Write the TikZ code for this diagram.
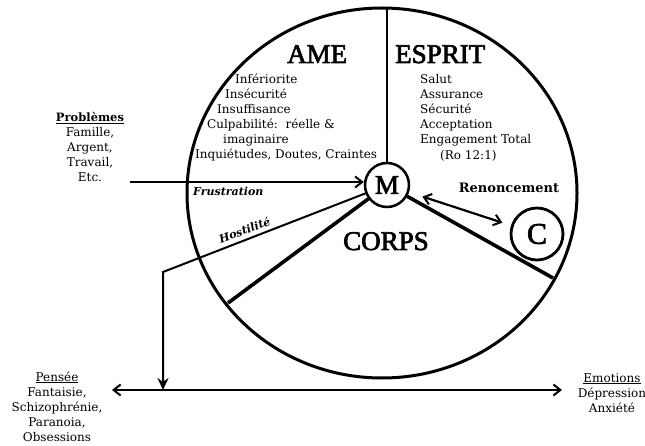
\documentclass[tikz,border=0pt]{standalone}
\usepackage{fontspec}
\setmainfont{DejaVu Serif}
\newfontfamily\titlefont{Liberation Serif}[FakeBold=2.5]
\usetikzlibrary{arrows.meta}

\begin{document}
\begin{tikzpicture}[x=1pt,y=-1pt,
  rim/.style={line width=3pt},
  spoke/.style={line width=3.6pt},
  axis/.style={line width=2.4pt},
  thinline/.style={line width=2pt},
  arrline/.style={line width=2.2pt},
  barb/.style={-{Straight Barb[length=7pt,width=11pt,line width=2pt]}},
  bothbarb/.style={{Straight Barb[length=7pt,width=11pt,line width=2pt]}-{Straight Barb[length=7pt,width=11pt,line width=2pt]}},
  downtip/.style={-{Stealth[length=12pt,width=11pt,inset=4pt]}},
  ring/.style={circle,draw,inner sep=0pt},
  title/.style={font=\titlefont\fontsize{27}{27}\selectfont,inner sep=0pt,anchor=base west},
  small/.style={font=\fontsize{12}{15}\selectfont,inner sep=0pt,anchor=base west},
  block/.style={font=\fontsize{12}{15}\selectfont,inner sep=0pt,anchor=base,align=center},
  slanted/.style={font=\bfseries\itshape\fontsize{11}{13}\selectfont,inner sep=0pt}
]
\useasboundingbox (0,0) rectangle (645,446);

% outer ellipse
\draw[rim] (382,193) ellipse [x radius=195, y radius=185];

% centre and cross nodes
\node[ring,line width=2.5pt,minimum size=44pt] (M) at (387,185)
  {\titlefont\fontsize{27}{27}\selectfont M};
\node[ring,line width=2.8pt,minimum size=52pt] (C) at (537,234)
  {\titlefont\fontsize{30}{30}\selectfont C};

% ends of the three dividers on the rim
\coordinate (top) at (387,8);
\coordinate (rs) at (553,278);
\coordinate (ls) at (228,303);

\draw[axis] (M.north) -- (top);
\draw[spoke] (M) -- (rs);
\draw[spoke] (M) -- (ls);

% section titles
\node[title] (ame) at (287,63) {AME};
\node[title] (esprit) at (395,63) {ESPRIT};
\node[title] (corps) at (343,250) {CORPS};

% AME list
\node[small] (a1) at (235,84) {Infériorite};
\node[small] (a2) at (225,99) {Insécurité};
\node[small] (a3) at (217,114) {Insuffisance};
\node[small] (a4) at (207,129) {Culpabilité:\ \ réelle \&};
\node[small] (a5) at (223,144) {imaginaire};
\node[small] (a6) at (195,159) {Inquiétudes, Doutes, Craintes};

% ESPRIT list
\node[small] (e1) at (420,84) {Salut};
\node[small] (e2) at (420,99) {Assurance};
\node[small] (e3) at (420,114) {Sécurité};
\node[small] (e4) at (420,129) {Acceptation};
\node[small] (e5) at (420,144) {Engagement Total};
\node[small] (e6) at (440,160) {(Ro 12:1)};

% problems entering the centre (base = last line)
\node[block] (prob) at (90,182)
  {\underline{\textbf{\fontsize{11.5}{15}\selectfont Problèmes}}\\Famille,\\Argent,\\Travail,\\Etc.};
\coordinate (pstart) at (130,182);
\draw[arrline,barb] (pstart) -- (M.west |- pstart);
\node[slanted,anchor=base west] (frus) at (193,196) {Frustration};

% hostility path down to the thought/emotion axis
\coordinate (hc) at (163,272);
\coordinate (hb) at (163,390);
\draw[thinline,downtip,line join=miter] (M) -- (hc) -- (hb);
\node[slanted,rotate=20,anchor=base] (host) at (246,234) {Hostilité};

% renouncement
\node[font=\bfseries\fontsize{13}{15}\selectfont,inner sep=0pt] (ren) at (509,188) {Renoncement};
\draw[arrline,bothbarb,shorten <=14pt,shorten >=9pt] (M) -- (C);

% bottom axis
\coordinate (bl) at (112,390);
\coordinate (br) at (562,390);
\draw[arrline,bothbarb] (bl) -- (br);

\node[block] (pensee) at (57,441)
  {\underline{Pensée}\\Fantaisie,\\Schizophrénie,\\Paranoia,\\Obsessions};
\node[block] (emo) at (612,412)
  {\underline{Emotions}\\Dépression\\Anxiété};
\end{tikzpicture}
\end{document}
